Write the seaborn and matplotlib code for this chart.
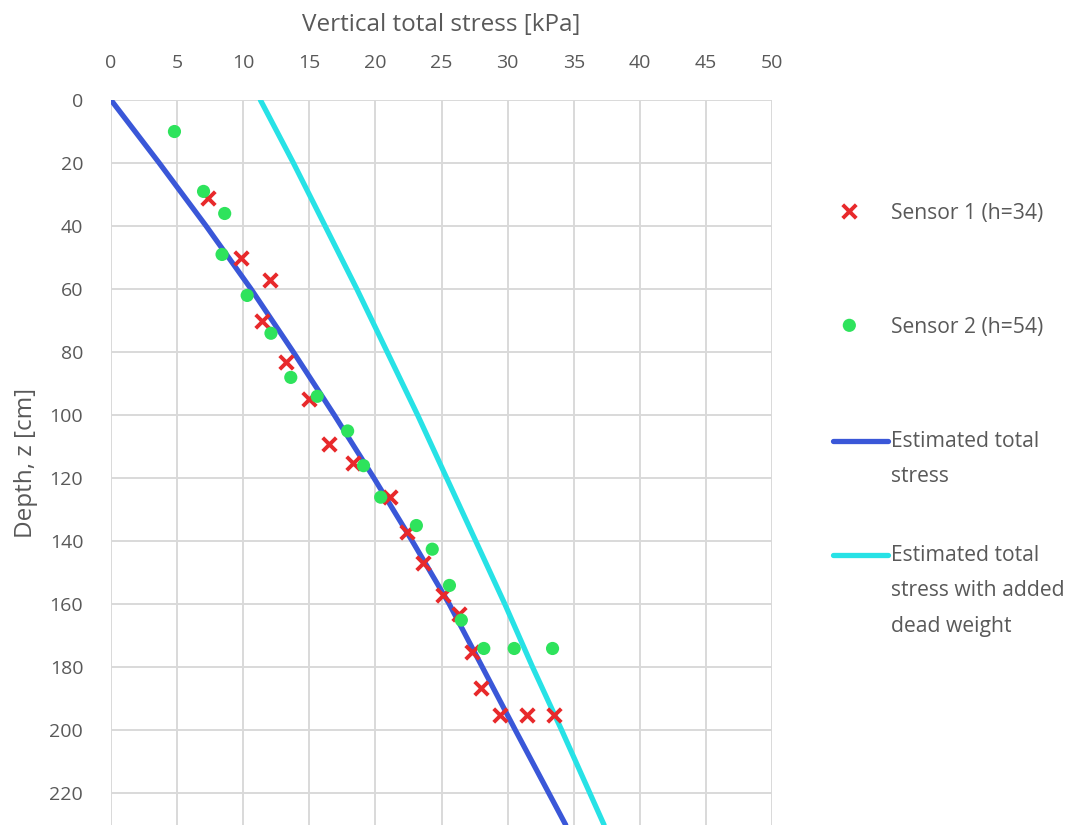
import matplotlib
matplotlib.use("Agg")
import matplotlib.pyplot as plt
from matplotlib.lines import Line2D
import seaborn as sns

# Sensor readings: depth [cm] and vertical total stress [kPa]
s1_depth = [31, 50, 57, 70, 83, 95, 109, 115, 126, 137, 147, 157, 163, 175, 186.5, 195, 195, 195]
s1_stress = [7.3, 9.8, 12.0, 11.4, 13.2, 15.0, 16.5, 18.3, 21.1, 22.4, 23.6, 25.1, 26.3, 27.3, 28.0, 29.4, 31.5, 33.5]

s2_depth = [10, 29, 36, 49, 62, 74, 88, 94, 105, 116, 126, 135, 142.5, 154, 165, 174, 174, 174]
s2_stress = [4.8, 7.0, 8.6, 8.4, 10.3, 12.1, 13.6, 15.6, 17.9, 19.1, 20.4, 23.1, 24.3, 25.6, 26.5, 28.2, 30.5, 33.4]

# Estimated curves
est_depth = [0, 20, 40, 60, 80, 100, 120, 140, 160, 180, 200, 230]
est_stress = [0, 3.65, 7.2, 10.6, 13.8, 16.9, 19.9, 22.8, 25.6, 28.1, 30.6, 34.4]

dw_depth = [0, 20, 40, 60, 80, 100, 120, 140, 160, 180, 200, 230]
dw_stress = [11.3, 13.8, 16.2, 18.6, 20.9, 23.2, 25.4, 27.6, 29.8, 31.9, 34.1, 37.3]

x_ticks = list(range(0, 51, 5))
y_ticks = list(range(0, 221, 20))

sns.set_style("white")
plt.rcParams["font.family"] = ["Open Sans", "DejaVu Sans"]
grey = "#595959"

fig = plt.figure(figsize=(10.69, 8.25), dpi=100)
ax = fig.add_axes([111 / 1069, 0, 661 / 1069, 725 / 825])

sns.lineplot(x=est_stress, y=est_depth, sort=False, estimator=None, color="#3a57d8",
             linewidth=3.8, ax=ax, label="Estimated total\nstress\n", zorder=3)
sns.lineplot(x=dw_stress, y=dw_depth, sort=False, estimator=None, color="#27e2e6",
             linewidth=3.8, ax=ax, label="Estimated total\nstress with added\ndead weight", zorder=3)
sns.scatterplot(x=s1_stress, y=s1_depth, marker="x", color="#e8292b", s=95,
                linewidth=2.8, ax=ax, label="Sensor 1 (h=34)\n\n", zorder=4)
sns.scatterplot(x=s2_stress, y=s2_depth, marker="o", color="#2ee35c", s=90,
                edgecolor="none", ax=ax, label="Sensor 2 (h=54)\n\n", zorder=4)

ax.set_xlim(0, 50)
ax.set_ylim(230, 0)
ax.set_xticks(x_ticks)
ax.set_yticks(y_ticks)
ax.xaxis.tick_top()
ax.xaxis.set_label_position("top")
ax.grid(True, color="#d9d9d9", linewidth=1.4)
for sp in ax.spines.values():
    sp.set_visible(False)
ax.tick_params(length=0, labelsize=14, colors=grey, pad=20)
ax.set_xlabel("Vertical total stress [kPa]", fontsize=17.5, color=grey, labelpad=17)
ax.set_ylabel("Depth, z [cm]", fontsize=17.5, color=grey, labelpad=8)

h, l = ax.get_legend_handles_labels()
order = [2, 3, 0, 1]
leg = ax.legend([h[i] for i in order], [l[i] for i in order], loc="upper left",
                bbox_to_anchor=(833 / 1069, 1 - 203 / 825), bbox_transform=fig.transFigure,
                frameon=False, fontsize=15.2, borderpad=0, borderaxespad=0,
                labelspacing=1.05, handlelength=2.6, handletextpad=0.15,
                labelcolor=grey)
for t in leg.get_texts():
    t.set_linespacing(1.9)

# keep legend keys level with the first line of each label
shift = 26.3
for hnd in leg.legend_handles:
    if isinstance(hnd, Line2D):
        hnd.set_ydata([y + shift for y in hnd.get_ydata()])
    else:
        offs = hnd.get_offsets().copy()
        offs[:, 0] -= 8
        offs[:, 1] += shift + 2.5
        hnd.set_offsets(offs)

fig.savefig("out.png", dpi=100)
